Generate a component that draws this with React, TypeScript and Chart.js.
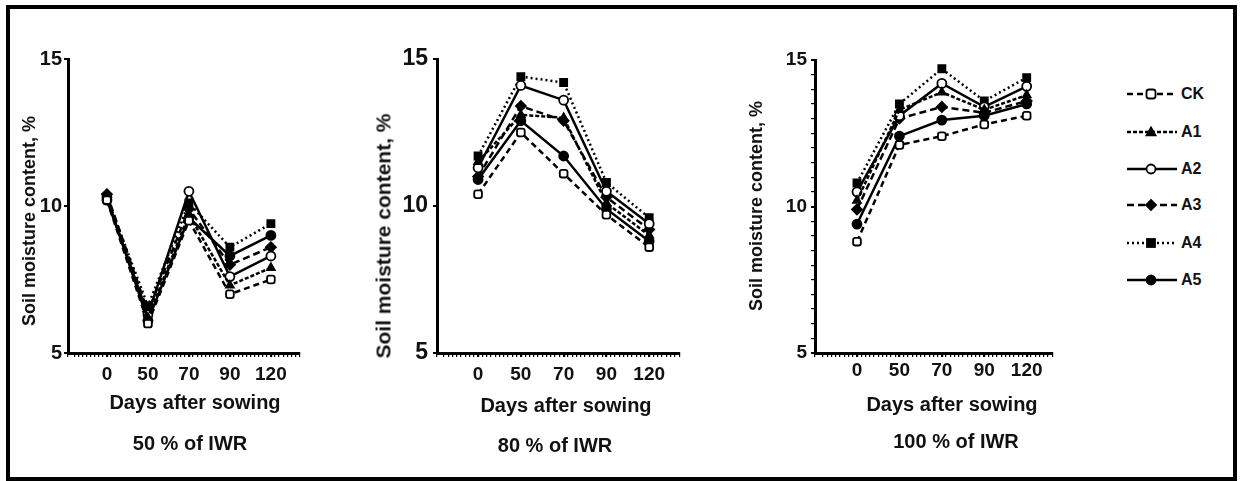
import React, { useEffect, useRef } from "react";
import { Chart, registerables } from "chart.js";

Chart.register(...registerables);

// ---------- data ----------
const days = ["0", "50", "70", "90", "120"];
const seriesNames = ["CK", "A1", "A2", "A3", "A4", "A5"];

// 50 % of IWR
const iwr50CK = [10.2, 6.0, 9.5, 7.0, 7.5];
const iwr50A1 = [10.3, 6.2, 9.7, 7.3, 7.9];
const iwr50A2 = [10.2, 6.3, 10.5, 7.6, 8.3];
const iwr50A3 = [10.4, 6.4, 9.9, 8.0, 8.6];
const iwr50A4 = [10.3, 6.6, 10.1, 8.6, 9.4];
const iwr50A5 = [10.3, 6.1, 9.6, 8.3, 9.0];

// 80 % of IWR
const iwr80CK = [10.4, 12.5, 11.1, 9.7, 8.6];
const iwr80A1 = [11.5, 13.1, 13.0, 10.1, 9.0];
const iwr80A2 = [11.3, 14.1, 13.6, 10.5, 9.4];
const iwr80A3 = [11.0, 13.4, 12.9, 10.3, 9.2];
const iwr80A4 = [11.7, 14.4, 14.2, 10.8, 9.6];
const iwr80A5 = [10.9, 12.9, 11.7, 9.9, 8.8];

// 100 % of IWR
const iwr100CK = [8.8, 12.1, 12.4, 12.8, 13.1];
const iwr100A1 = [10.2, 13.3, 13.9, 13.3, 13.8];
const iwr100A2 = [10.5, 13.1, 14.2, 13.4, 14.1];
const iwr100A3 = [9.9, 13.0, 13.4, 13.2, 13.6];
const iwr100A4 = [10.8, 13.5, 14.7, 13.6, 14.4];
const iwr100A5 = [9.4, 12.4, 12.95, 13.1, 13.5];

const yTickLabels = [5, 10, 15];
const panelTitles = ["50 % of IWR", "80 % of IWR", "100 % of IWR"];
const xTitle = "Days after sowing";
const yTitle = "Soil moisture content, %";

// ---------- styles ----------
const FONT = "'Liberation Sans', Arial, Helvetica, sans-serif";
const INK = "#111";

type SeriesStyle = { dash: number[]; point: string; fill: string; radius: number };
const seriesStyles: SeriesStyle[] = [
  { dash: [6, 4], point: "rectRounded", fill: "#fff", radius: 4.5 },
  { dash: [4, 2], point: "triangle", fill: "#000", radius: 4.5 },
  { dash: [], point: "circle", fill: "#fff", radius: 4.5 },
  { dash: [7, 4], point: "rectRot", fill: "#000", radius: 5 },
  { dash: [2, 3], point: "rect", fill: "#000", radius: 5 },
  { dash: [], point: "circle", fill: "#000", radius: 4.5 },
];

type PanelLayout = {
  chartLeft: number;
  chartRight: number;
  chartTop: number;
  yWidth: number;
  xMin: number;
  xMax: number;
  yStep: number;
  yFont: number;
  yPad: number;
  xPad: number;
  yTitle: { x: number; y: number; size: number };
  xTitlePos: { x: number; y: number };
  subTitlePos: { x: number; y: number };
};

const layouts: PanelLayout[] = [
  {
    chartLeft: 68, chartRight: 300, chartTop: 59, yWidth: 50,
    xMin: -0.95, xMax: 4.71, yStep: 5, yFont: 20, yPad: 2, xPad: 6,
    yTitle: { x: 28.5, y: 221, size: 18 },
    xTitlePos: { x: 195, y: 402 },
    subTitlePos: { x: 190, y: 443 },
  },
  {
    chartLeft: 437, chartRight: 680, chartTop: 59, yWidth: 64,
    xMin: -0.96, xMax: 4.72, yStep: 5, yFont: 23, yPad: 5, xPad: 6,
    yTitle: { x: 383, y: 236, size: 21 },
    xTitlePos: { x: 566, y: 405 },
    subTitlePos: { x: 555, y: 445 },
  },
  {
    chartLeft: 815, chartRight: 1053, chartTop: 60, yWidth: 64,
    xMin: -0.99, xMax: 4.62, yStep: 0.5, yFont: 19, yPad: 4, xPad: 2,
    yTitle: { x: 756, y: 206, size: 18 },
    xTitlePos: { x: 952, y: 404 },
    subTitlePos: { x: 956, y: 441 },
  },
];

const CHART_BOTTOM = 353;
const X_AXIS_H = 40;
const PAD_RIGHT = 12;
const PAD_BOTTOM = 5;
const CANVAS_TOP = 40;

const panelData: number[][][] = [
  [iwr50CK, iwr50A1, iwr50A2, iwr50A3, iwr50A4, iwr50A5],
  [iwr80CK, iwr80A1, iwr80A2, iwr80A3, iwr80A4, iwr80A5],
  [iwr100CK, iwr100A1, iwr100A2, iwr100A3, iwr100A4, iwr100A5],
];

const isInt = (v: number) => Math.abs(v - Math.round(v)) < 1e-6;

function buildChart(canvas: HTMLCanvasElement, series: number[][], L: PanelLayout) {
  const datasets = series.map((vals, si) => {
    const st = seriesStyles[si];
    return {
      label: seriesNames[si],
      data: vals.map((v, i) => ({ x: i, y: v })),
      borderColor: "#000",
      borderWidth: 2.5,
      borderDash: st.dash,
      pointStyle: st.point as any,
      pointRadius: st.radius,
      pointBackgroundColor: st.fill,
      pointBorderColor: "#000",
      pointBorderWidth: 1.8,
      tension: 0,
      fill: false,
    };
  });

  return new Chart(canvas, {
    type: "line",
    data: { datasets },
    options: {
      responsive: false,
      animation: false,
      events: [],
      layout: {
        padding: { left: 0, right: PAD_RIGHT, top: L.chartTop - CANVAS_TOP, bottom: PAD_BOTTOM },
      },
      plugins: { legend: { display: false }, tooltip: { enabled: false }, title: { display: false } },
      scales: {
        x: {
          type: "linear",
          min: L.xMin,
          max: L.xMax,
          afterFit: (s: any) => {
            s.height = X_AXIS_H;
          },
          ticks: {
            stepSize: 0.1,
            autoSkip: false,
            maxRotation: 0,
            minRotation: 0,
            padding: L.xPad,
            color: INK,
            font: { family: FONT, size: 19, weight: "bold" },
            callback: (value: any) => {
              const v = Number(value);
              const r = Math.round(v);
              return isInt(v) && r >= 0 && r < days.length ? days[r] : "";
            },
          },
          grid: {
            drawOnChartArea: false,
            drawTicks: true,
            tickLength: 4,
            color: "#000",
            lineWidth: (ctx: any) => (ctx.tick && isInt(ctx.tick.value) ? 2.2 : 1.2),
          },
          border: { display: true, color: "#000", width: 3 },
        },
        y: {
          type: "linear",
          min: 5,
          max: 15,
          afterFit: (s: any) => {
            s.width = L.yWidth;
          },
          ticks: {
            stepSize: L.yStep,
            autoSkip: false,
            padding: L.yPad,
            color: INK,
            font: { family: FONT, size: L.yFont, weight: "bold" },
            callback: (value: any) => {
              const v = Number(value);
              return yTickLabels.some((t) => Math.abs(t - v) < 1e-6) ? String(v) : "";
            },
          },
          grid: {
            drawOnChartArea: false,
            drawTicks: true,
            tickLength: 4,
            color: "#000",
            lineWidth: (ctx: any) =>
              ctx.tick && yTickLabels.some((t) => Math.abs(t - ctx.tick.value) < 1e-6) ? 2 : 1.2,
          },
          border: { display: true, color: "#000", width: 3 },
        },
      },
    },
  });
}

function LegendMarker({ st, cx, cy }: { st: SeriesStyle; cx: number; cy: number }) {
  const r = st.radius;
  const common = { fill: st.fill, stroke: "#000", strokeWidth: 1.8 };
  switch (st.point) {
    case "rectRounded":
      return <rect x={cx - r} y={cy - r} width={2 * r} height={2 * r} rx={2.5} {...common} />;
    case "triangle":
      return <polygon points={`${cx},${cy - r} ${cx + r},${cy + r * 0.75} ${cx - r},${cy + r * 0.75}`} {...common} />;
    case "rectRot":
      return <polygon points={`${cx},${cy - r} ${cx + r},${cy} ${cx},${cy + r} ${cx - r},${cy}`} {...common} />;
    case "rect":
      return <rect x={cx - r * 0.8} y={cy - r * 0.8} width={1.6 * r} height={1.6 * r} {...common} />;
    default:
      return <circle cx={cx} cy={cy} r={r} {...common} />;
  }
}

const legendRowsY = [94, 132, 169, 205, 243, 280];

export default function App() {
  const refs = [useRef<HTMLCanvasElement>(null), useRef<HTMLCanvasElement>(null), useRef<HTMLCanvasElement>(null)];

  useEffect(() => {
    const charts = layouts.map((L, i) => buildChart(refs[i].current as HTMLCanvasElement, panelData[i], L));
    return () => charts.forEach((c) => c.destroy());
  }, []);

  const textStyle: React.CSSProperties = {
    position: "absolute",
    fontFamily: FONT,
    fontWeight: "bold",
    color: INK,
    whiteSpace: "nowrap",
    lineHeight: 1,
  };

  return (
    <div
      style={{
        position: "absolute",
        left: 0,
        top: 0,
        width: 1240,
        height: 481,
        background: "#fff",
        overflow: "hidden",
        fontFamily: FONT,
      }}
    >
      <div
        style={{
          position: "absolute",
          left: 6,
          top: 5,
          width: 1231,
          height: 476,
          boxSizing: "border-box",
          border: "4px solid #000",
        }}
      />
      {layouts.map((L, i) => {
        const left = L.chartLeft - L.yWidth;
        const width = L.chartRight - left + PAD_RIGHT;
        const height = CHART_BOTTOM - CANVAS_TOP + X_AXIS_H + PAD_BOTTOM;
        return (
          <React.Fragment key={i}>
            <canvas
              ref={refs[i]}
              width={width}
              height={height}
              style={{ position: "absolute", left, top: CANVAS_TOP, width, height }}
            />
            <div
              style={{
                ...textStyle,
                left: L.yTitle.x,
                top: L.yTitle.y,
                fontSize: L.yTitle.size,
                transform: "translate(-50%, -50%) rotate(-90deg)",
              }}
            >
              {yTitle}
            </div>
            <div
              style={{
                ...textStyle,
                left: L.xTitlePos.x,
                top: L.xTitlePos.y,
                fontSize: 20,
                transform: "translate(-50%, -50%)",
              }}
            >
              {xTitle}
            </div>
            <div
              style={{
                ...textStyle,
                left: L.subTitlePos.x,
                top: L.subTitlePos.y,
                fontSize: 20,
                transform: "translate(-50%, -50%)",
              }}
            >
              {panelTitles[i]}
            </div>
          </React.Fragment>
        );
      })}
      {seriesNames.map((name, i) => {
        const st = seriesStyles[i];
        const cy = legendRowsY[i];
        return (
          <React.Fragment key={name}>
            <svg
              width={56}
              height={16}
              style={{ position: "absolute", left: 1125, top: cy - 8, overflow: "visible" }}
            >
              <line
                x1={2}
                y1={8}
                x2={52}
                y2={8}
                stroke="#000"
                strokeWidth={2.5}
                strokeDasharray={st.dash.length ? st.dash.join(" ") : undefined}
              />
              <LegendMarker st={st} cx={26} cy={8} />
            </svg>
            <div
              style={{
                ...textStyle,
                left: 1181,
                top: cy,
                fontSize: 16,
                transform: "translateY(-50%)",
              }}
            >
              {name}
            </div>
          </React.Fragment>
        );
      })}
    </div>
  );
}
